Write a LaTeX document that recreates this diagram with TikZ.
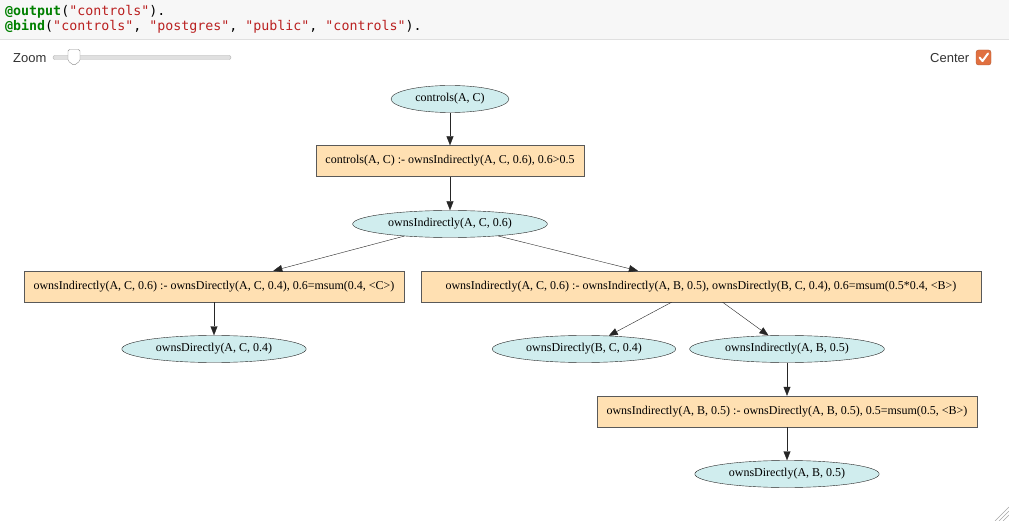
\documentclass[tikz,border=0pt]{standalone}
\usepackage{fontspec}
\setmainfont{Liberation Serif}
\setsansfont{Liberation Sans}
\setmonofont{DejaVu Sans Mono}
\usetikzlibrary{shapes.geometric,arrows.meta}

\definecolor{goalfill}{RGB}{208,237,238}
\definecolor{rulefill}{RGB}{255,224,178}
\definecolor{codebg}{RGB}{247,247,247}
\definecolor{codeline}{RGB}{224,224,224}
\definecolor{codegreen}{RGB}{0,128,0}
\definecolor{codered}{RGB}{186,33,33}
\definecolor{uitext}{RGB}{51,51,51}
\definecolor{tickorange}{RGB}{224,112,64}

\tikzset{
  goal/.style={ellipse, draw=black!85, fill=goalfill, inner xsep=7pt,
    inner ysep=0.5pt, minimum height=27pt, font=\fontsize{12}{14}\selectfont},
  rule/.style={rectangle, draw=black!65, fill=rulefill, inner xsep=9.5pt,
    minimum height=31pt, font=\fontsize{12}{14}\selectfont},
  link/.style={draw=black!85, -{Triangle[length=9pt,width=7pt]}},
  code/.style={anchor=base west, inner sep=0pt, font=\ttfamily\fontsize{13.3}{16}\selectfont},
  uilabel/.style={anchor=base west, inner sep=0pt, text=uitext, font=\sffamily\fontsize{13}{15}\selectfont}
}

\begin{document}
\begin{tikzpicture}[x=1pt,y=-1pt]
  \useasboundingbox (0,0) rectangle (1009,521);
  \fill[white] (0,0) rectangle (1009,521);

  % code cell
  \fill[codebg] (0,0) rectangle (1009,39.5);
  \draw[codeline] (0,39.5) -- (1009,39.5);
  \node[code] (line1) at (5,15.5) {\textcolor{codegreen}{\bfseries @output}(\textcolor{codered}{"controls"}).};
  \node[code] (line2) at (5,30.5) {\textcolor{codegreen}{\bfseries @bind}(\textcolor{codered}{"controls"}, \textcolor{codered}{"postgres"}, \textcolor{codered}{"public"}, \textcolor{codered}{"controls"}).};

  % controls
  \node[uilabel] (zoomlbl) at (13,63) {Zoom};
  \draw[fill=black!12, draw=black!30, rounded corners=2pt] (53,55.5) rectangle (231,59.5);
  \draw[fill=white, draw=black!45, rounded corners=1.5pt] (68,49.5) -- (80,49.5) -- (80,61) -- (74,65.5) -- (68,61) -- cycle;
  \node[uilabel] (centerlbl) at (930,63) {Center};
  \draw[fill=tickorange, draw=tickorange!80!black, rounded corners=2.5pt] (976,50) rectangle (991,65);
  \draw[white, line width=2pt, line cap=round, line join=round] (979.5,57.5) -- (982.5,61) -- (988,53.5);

  % proof tree
  \node[goal] (c0) at (450,99) {controls(A, C)};
  \node[rule] (r0) at (450,161) {controls(A, C) :- ownsIndirectly(A, C, 0.6), 0.6>0.5};
  \node[goal] (g1) at (450,224) {ownsIndirectly(A, C, 0.6)};
  \node[rule] (r1) at (214,286.5) {ownsIndirectly(A, C, 0.6) :- ownsDirectly(A, C, 0.4), 0.6=msum(0.4, <C>)};
  \node[rule, minimum width=560pt] (r2) at (701,286.5) {ownsIndirectly(A, C, 0.6) :- ownsIndirectly(A, B, 0.5), ownsDirectly(B, C, 0.4), 0.6=msum(0.5*0.4, <B>)};
  \node[goal] (g2) at (214,349) {ownsDirectly(A, C, 0.4)};
  \node[goal] (g3) at (584,349) {ownsDirectly(B, C, 0.4)};
  \node[goal] (g4) at (787,349) {ownsIndirectly(A, B, 0.5)};
  \node[rule] (r3) at (787,411.5) {ownsIndirectly(A, B, 0.5) :- ownsDirectly(A, B, 0.5), 0.5=msum(0.5, <B>)};
  \node[goal] (g5) at (787,474) {ownsDirectly(A, B, 0.5)};

  \draw[link] (c0) -- (r0);
  \draw[link] (r0) -- (g1);
  \draw[link] (g1) -- (r1);
  \draw[link] (g1) -- (r2);
  \draw[link] (r1) -- (g2);
  \draw[link] (r2) -- (g3);
  \draw[link] (r2) -- (g4);
  \draw[link] (g4) -- (r3);
  \draw[link] (r3) -- (g5);

  % resize grip
  \foreach \d in {14,10,6}
    \draw[black!35] (1009-\d,521) -- (1009,521-\d);
\end{tikzpicture}
\end{document}
